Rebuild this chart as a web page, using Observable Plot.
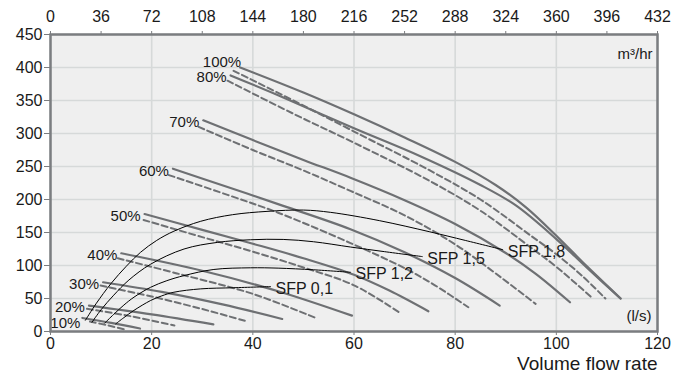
<!DOCTYPE html>
<html><head><meta charset="utf-8">
<script src="https://cdn.jsdelivr.net/npm/d3@7"></script>
<script src="https://cdn.jsdelivr.net/npm/@observablehq/plot@0.6"></script>
<style>body{margin:0;background:#fff;} svg{display:block}</style>
</head><body><div id="chart"></div>
<script>
// Axis ticks
const bottomTicks = [0, 20, 40, 60, 80, 100, 120];           // l/s
const yTicks = [0, 50, 100, 150, 200, 250, 300, 350, 400, 450];
const topTickPos = [0, 10, 20, 30, 40, 50, 60, 70, 80, 90, 100, 110, 120]; // l/s positions
const topTickLabels = ["0","36","72","108","144","180","216","252","288","324","360","396","432"]; // m³/hr

// Fan curves (x: l/s, y: Pa)
const levels = ["10%","20%","30%","40%","50%","60%","70%","80%","100%"];
const solid10 = [[6.3,20.5],[12,13],[17.7,4.5]];
const dashed10 = [[7.8,15],[11.5,9],[15,2.5]];
const solid20 = [[7.6,39.3],[20,26],[32.2,10.8]];
const dashed20 = [[7.2,34.3],[16,23],[24.5,9]];
const solid30 = [[10.4,74.6],[22,60],[34,41],[45.8,19]];
const dashed30 = [[9.9,69.6],[20,53],[30,34],[38.7,15.6]];
const solid40 = [[14,118.5],[30,92],[45,61],[59.6,24]];
const dashed40 = [[13.3,111],[25,88],[40,57],[52.6,20]];
const solid50 = [[18.6,178],[30,154],[40,133],[50,111],[60,86],[67,62],[74.7,30.7]];
const dashed50 = [[18.4,169],[30,143],[40,121],[50,97],[60,70],[69.2,27.7]];
const solid60 = [[24.2,246.6],[35,219],[45,193],[59.3,155],[70,120],[80,81],[88.8,39.3]];
const dashed60 = [[23.4,237],[35,207],[45,180],[59.3,134],[70,96],[76,70],[82.6,36.8]];
const solid70 = [[30.2,320],[40,290],[50,260],[59.3,233],[70,199],[80,163],[90,119],[96,87],[102.7,44.3]];
const dashed70 = [[29.3,310],[40,275],[50,244],[59.3,213],[70,176],[80,132],[88,88],[95.9,41.9]];
const solid80 = [[35.6,388],[45,358],[60,308],[73,266],[85,222],[92,191],[100,140],[106,97],[112.7,50]];
const dashed80 = [[35,380],[48,330],[60,286],[75,228],[85,183],[95,127],[100,98],[107.2,50]];
const solid100 = [[37.5,400],[50,362],[60,329],[70,294],[80,257],[88,222],[94,188],[100,145],[106,99],[112.7,50]];
const dashed100 = [[36.2,395],[48,350],[60,303],[75,244],[85,200],[95,145],[100,117],[105,85],[109.7,50]];

// SFP curves
const sfpNames = ["SFP 0,1","SFP 1,2","SFP 1,5","SFP 1,8"];
const sfp01 = [[12.9,11.6],[14.5,21],[16.5,32],[19.8,47],[22,54],[24.4,59.5],[29.7,64.6],[36.2,66.3],[43.5,68]];
const sfp12 = [[10.7,12.6],[12.5,26],[14.5,40],[16.5,52],[19.8,67],[23,77],[26.4,84.7],[32.3,94],[39.5,96.5],[45,96],[52,93.5],[59.3,89.7]];
const sfp15 = [[8.2,14],[10,33],[12.5,55],[15.5,78],[19.8,102],[26.4,125],[33,135],[39.5,139],[46,139.5],[52,136],[59.3,128],[66,121],[73.5,113.5]];
const sfp18 = [[6.9,17],[9,42],[12,73],[15,99],[17.8,120],[21,138],[24.4,152],[29.7,167],[36,177],[42.8,182],[50,184],[55.4,180.5],[65,168],[75,151],[82,138],[89.4,124]];

const solidSeries = [solid10,solid20,solid30,solid40,solid50,solid60,solid70,solid80,solid100];
const dashedSeries = [dashed10,dashed20,dashed30,dashed40,dashed50,dashed60,dashed70,dashed80,dashed100];
const sfpSeries = [sfp01,sfp12,sfp15,sfp18];

const toRows = (names, series) => names.flatMap((n, i) => series[i].map(([x, y]) => ({name: n, x, y})));
const solidRows = toRows(levels, solidSeries);
const dashedRows = toRows(levels, dashedSeries);
const sfpRows = toRows(sfpNames, sfpSeries);
const pctLabels = levels.map((n, i) => ({name: n, x: solidSeries[i][0][0], y: solidSeries[i][0][1]}));
const sfpEnds = sfpNames.map((n, i) => { const p = sfpSeries[i][sfpSeries[i].length - 1]; return {name: n, x: p[0], y: p[1]}; });

const lineColor = "#6e7073";
const axisColor = "#7b7d80";
const gridColor = "#d6d9d9";
const pctMain = pctLabels.filter(d => d.name !== "100%" && d.name !== "10%");
const pct100 = pctLabels.filter(d => d.name === "100%");
const pct10 = pctLabels.filter(d => d.name === "10%");

const chart = Plot.plot({
  width: 686, height: 385,
  marginLeft: 50, marginRight: 29, marginTop: 34, marginBottom: 54,
  x: {domain: [0, 120]},
  y: {domain: [0, 450]},
  style: {fontFamily: "'Liberation Sans', Arial, sans-serif", fontSize: "16px", color: "#1a1a1a", background: "#fff", overflow: "visible"},
  marks: [
    Plot.frame({fill: "#efefef"}),
    Plot.gridX(bottomTicks, {stroke: gridColor, strokeOpacity: 1, strokeWidth: 1.6}),
    Plot.gridY(yTicks, {stroke: gridColor, strokeOpacity: 1, strokeWidth: 1.6}),
    Plot.line(dashedRows, {x: "x", y: "y", z: "name", stroke: lineColor, strokeWidth: 2, strokeDasharray: "6,3.5", curve: "catmull-rom"}),
    Plot.line(solidRows, {x: "x", y: "y", z: "name", stroke: lineColor, strokeWidth: 2.2, curve: "catmull-rom"}),
    Plot.line(sfpRows, {x: "x", y: "y", z: "name", stroke: "#000", strokeWidth: 1, curve: "catmull-rom"}),
    Plot.text(pctMain, {x: "x", y: "y", text: "name", textAnchor: "end", dx: -4, dy: 2, fontSize: 15}),
    Plot.text(pct100, {x: "x", y: "y", text: "name", textAnchor: "end", dx: 1, dy: -5, fontSize: 15}),
    Plot.text(pct10, {x: "x", y: "y", text: "name", textAnchor: "end", dx: -2, dy: 5, fontSize: 15}),
    Plot.text(sfpEnds, {x: "x", y: "y", text: "name", textAnchor: "start", dx: 5, dy: 2, fontSize: 16}),
    Plot.frame({stroke: axisColor, strokeWidth: 2.5}),
    Plot.axisY({ticks: yTicks, tickSize: 6, tickPadding: 2, stroke: axisColor, label: null}),
    Plot.axisX({ticks: bottomTicks, anchor: "bottom", tickSize: 4, tickPadding: 2, stroke: axisColor, label: null}),
    Plot.axisX({ticks: topTickPos, anchor: "top", tickSize: 4, tickPadding: 9, stroke: axisColor, label: null,
      tickFormat: d => topTickLabels[topTickPos.indexOf(d)]}),
    Plot.text(["m³/hr"], {text: d => d, frameAnchor: "top-right", dx: -5, dy: 14, textAnchor: "end", fontSize: 15}),
    Plot.text(["(l/s)"], {text: d => d, frameAnchor: "bottom-right", dx: -6, dy: -11, textAnchor: "end", fontSize: 15}),
    Plot.text(["Volume flow rate"], {text: d => d, frameAnchor: "bottom-right", dy: 38, textAnchor: "end", fontSize: 19})
  ]
});
document.getElementById("chart").append(chart);
</script>
</body></html>
